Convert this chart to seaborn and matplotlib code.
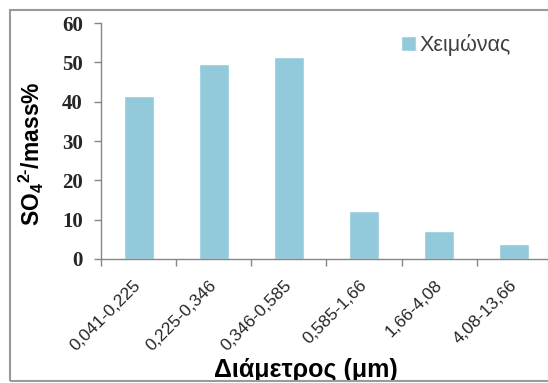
import matplotlib
matplotlib.use("Agg")
import matplotlib.pyplot as plt
from matplotlib.patches import Rectangle
from matplotlib.ticker import FixedLocator, MultipleLocator
import seaborn as sns
import pandas as pd

# Size ranges (µm) and sulfate mass fraction per range
size_ranges = ["0,041-0,225", "0,225-0,346", "0,346-0,585",
               "0,585-1,66", "1,66-4,08", "4,08-13,66"]
sulfate_pct = [41.5, 49.7, 51.4, 12.3, 7.0, 3.8]
series_name = "Χειμώνας"

sns.set_theme(style="white")
plt.rcParams["font.family"] = ["Liberation Sans", "DejaVu Sans"]
plt.rcParams["mathtext.fontset"] = "custom"
plt.rcParams["mathtext.rm"] = "Liberation Sans:bold"
plt.rcParams["mathtext.it"] = "Liberation Sans:bold"
plt.rcParams["mathtext.bf"] = "Liberation Sans:bold"

df = pd.DataFrame({"range": size_ranges, "value": sulfate_pct})

fig = plt.figure(figsize=(5.48, 3.83), dpi=100)
ax = fig.add_axes([101 / 548, 1 - 259 / 383, 451 / 548, 236 / 383])

bar_color = "#92CADC"
sns.barplot(data=df, x="range", y="value", color=bar_color, width=0.4,
            saturation=1, ax=ax, label=series_name)

ax.set_xlim(-0.5, len(size_ranges) - 0.5)
ax.set_ylim(0, 60)
ax.yaxis.set_major_locator(MultipleLocator(10))

spine_color = "#868686"
for side in ("top", "right"):
    ax.spines[side].set_visible(False)
for side in ("left", "bottom"):
    ax.spines[side].set_color(spine_color)
    ax.spines[side].set_linewidth(1.0)

# category boundary tick marks on the x axis
ax.xaxis.set_minor_locator(FixedLocator([i - 0.5 for i in range(len(size_ranges) + 1)]))
ax.tick_params(axis="x", which="minor", bottom=True, length=5, width=1, color=spine_color)
ax.tick_params(axis="x", which="major", bottom=True, length=0, pad=17)
ax.tick_params(axis="y", which="major", left=True, length=5, width=1, color=spine_color, pad=8)

ax.set_xticks(range(len(size_ranges)))
ax.set_xticklabels(size_ranges, rotation=45, ha="right", va="center",
                   rotation_mode="anchor", fontsize=12.5, color="#262626")
for lbl in ax.get_yticklabels():
    lbl.set_fontfamily("Liberation Serif")
    lbl.set_fontweight("bold")
    lbl.set_fontsize(15)
    lbl.set_color("#262626")

ax.set_xlabel("Διάμετρος (μm)", fontsize=18, fontweight="bold", va="center", color="black")
ax.xaxis.set_label_coords(0.455, -0.472)
ax.set_ylabel(r"SO$_{4}$$^{2\text{-}}$/mass%", fontsize=16.5, fontweight="bold",
              va="center", color="black")
ax.yaxis.set_label_coords(-0.155, 0.445)

leg = ax.legend(loc="center left", bbox_to_anchor=(401 / 548, 1 - 45 / 383),
                bbox_transform=fig.transFigure, frameon=False, fontsize=15.5,
                handlelength=0.7, handleheight=0.7, handletextpad=0.15,
                borderpad=0, borderaxespad=0)
for t in leg.get_texts():
    t.set_color("#404040")

# outer chart border
fig.patches.append(Rectangle((10 / 548, 2 / 383), 1.0, 1 - 12 / 383,
                             transform=fig.transFigure, fill=False,
                             edgecolor="#9A9A9A", linewidth=1.5, clip_on=False))

fig.savefig("out.png", dpi=100)
